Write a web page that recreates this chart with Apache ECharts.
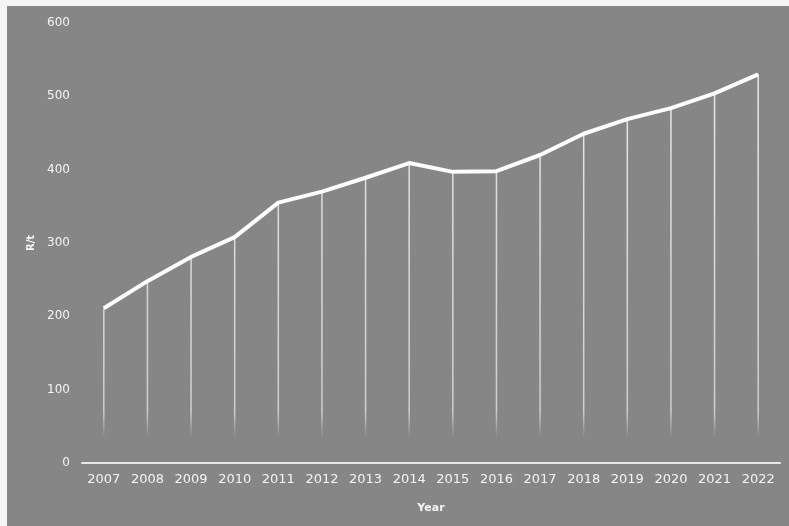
<!DOCTYPE html>
<html>
<head>
<meta charset="utf-8">
<script src="https://cdn.jsdelivr.net/npm/echarts@6/dist/echarts.min.js"></script>
<style>
  html, body { margin: 0; padding: 0; background: #f4f4f4; }
  #chart { position: absolute; left: 7px; top: 6px; width: 782px; height: 520px; background: #868686; }
</style>
</head>
<body>
<div id="chart"></div>
<script>
// Price per tonne by year
const years = ['2007','2008','2009','2010','2011','2012','2013','2014','2015','2016','2017','2018','2019','2020','2021','2022'];
const prices = [211, 248, 281, 308, 355, 370, 389, 409, 397, 398, 420, 449, 469, 484, 504, 530];
const yTicks = { min: 0, max: 600, interval: 100 };

const chart = echarts.init(document.getElementById('chart'), null, { renderer: 'canvas' });

const labelColor = '#f4f4f4';
const font = 'DejaVu Sans';

chart.setOption({
  backgroundColor: '#868686',
  animation: false,
  grid: { left: 75, right: 9, top: 17, bottom: 63 },
  xAxis: {
    type: 'category',
    data: years,
    boundaryGap: true,
    name: 'Year',
    nameLocation: 'middle',
    nameGap: 40,
    nameTextStyle: { color: labelColor, fontSize: 11, fontWeight: 'bold', fontFamily: font },
    axisLine: { lineStyle: { color: '#e8e8e8', width: 2 } },
    axisTick: { show: false },
    axisLabel: { color: labelColor, fontSize: 13, fontFamily: font, margin: 10, interval: 0 },
    splitLine: { show: false }
  },
  yAxis: {
    type: 'value',
    min: yTicks.min,
    max: yTicks.max,
    interval: yTicks.interval,
    name: 'R/t',
    nameLocation: 'middle',
    nameRotate: 90,
    nameGap: 43,
    nameTextStyle: { color: labelColor, fontSize: 10, fontWeight: 'bold', fontFamily: font },
    axisLine: { show: false },
    axisTick: { show: false },
    axisLabel: { color: labelColor, fontSize: 12, fontFamily: font, margin: 12 },
    splitLine: { show: false }
  },
  series: [
    {
      // thin drop lines from each yearly value
      type: 'bar',
      data: prices,
      barWidth: 1.5,
      silent: true,
      itemStyle: {
        color: {
          type: 'linear', x: 0, y: 0, x2: 0, y2: 520, global: true,
          colorStops: [
            { offset: 0, color: 'rgba(255,255,255,0.85)' },
            { offset: 0.78, color: 'rgba(255,255,255,0.6)' },
            { offset: 0.83, color: 'rgba(255,255,255,0)' },
            { offset: 1, color: 'rgba(255,255,255,0)' }
          ]
        }
      },
      z: 1
    },
    {
      type: 'line',
      data: prices,
      symbol: 'none',
      lineStyle: { color: '#fcfcfc', width: 4 },
      z: 3
    }
  ]
});
</script>
</body>
</html>
